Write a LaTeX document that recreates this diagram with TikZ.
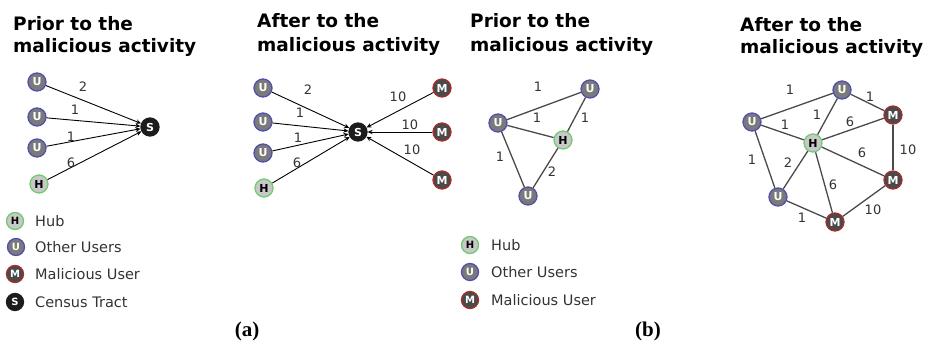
\documentclass[tikz,border=0pt]{standalone}
\usepackage{fontspec}
\setmainfont{DejaVu Sans}
\newfontfamily\capfont{Liberation Serif}
\usetikzlibrary{arrows.meta}
\definecolor{ublue}{HTML}{5050B0}
\definecolor{ugray}{HTML}{7A7A7A}
\definecolor{hgreen}{HTML}{70CC70}
\definecolor{hgray}{HTML}{C8C8C8}
\definecolor{mred}{HTML}{A82C2C}
\definecolor{mgray}{HTML}{4A4A4A}
\definecolor{sblack}{HTML}{1C1C1C}
\definecolor{edgec}{HTML}{4A4A4A}
\definecolor{lblc}{HTML}{333333}
\begin{document}
\begin{tikzpicture}[x=1pt,y=-1pt,
  nd/.style={circle,minimum size=18pt,inner sep=0pt,line width=1.3pt,font=\fontsize{11}{11}\selectfont\bfseries},
  uu/.style={nd,draw=ublue,fill=ugray,text=white},
  hh/.style={nd,draw=hgreen,fill=hgray,text=black},
  mm/.style={nd,draw=mred,fill=mgray,text=white},
  ss/.style={nd,draw=sblack,fill=sblack,text=white},
  lgi/.style={minimum size=17pt,font=\fontsize{10}{10}\selectfont\bfseries},
  lgt/.style={anchor=west,inner sep=0pt,text=lblc,font=\fontsize{14.5}{14.5}\selectfont},
  ttl/.style={anchor=base west,inner sep=0pt,font=\fontsize{18.5}{18.5}\selectfont\bfseries},
  lbl/.style={inner sep=0pt,text=lblc,font=\fontsize{13}{13}\selectfont},
  arr/.style={draw=black,line width=0.9pt,-{Stealth[length=5pt,width=4.5pt]}},
  ed/.style={draw=edgec,line width=1.3pt},
  captxt/.style={inner sep=0pt,font=\capfont\fontsize{21}{21}\selectfont\bfseries}
]
\useasboundingbox (0,0) rectangle (930,342);

% ---------- titles ----------
\node[ttl] (ta1) at (13,31) {Prior to the};
\node[ttl] (ta2) at (13,53) {malicious activity};
\node[ttl] (tb1) at (257,28) {After to the};
\node[ttl] (tb2) at (257,52) {malicious activity};
\node[ttl] (tc1) at (470,28) {Prior to the};
\node[ttl] (tc2) at (470,52) {malicious activity};
\node[ttl] (td1) at (740,32) {After to the};
\node[ttl] (td2) at (740,54) {malicious activity};

% ---------- panel (a) left ----------
\node[uu] (a1) at (37,82) {U};
\node[uu] (a2) at (37,117) {U};
\node[uu] (a3) at (37,148) {U};
\node[hh] (ah) at (39,184) {H};
\node[ss] (as) at (150,127) {S};
\draw[arr] (a1) -- (as);
\draw[arr] (a2) -- (as);
\draw[arr] (a3) -- (as);
\draw[arr] (ah) -- (as);
\node[lbl] (la1) at (83,87) {2};
\node[lbl] (la2) at (75,110) {1};
\node[lbl] (la3) at (71,137) {1};
\node[lbl] (la4) at (71,163) {6};

% ---------- panel (a) right ----------
\node[uu] (b1) at (263,88) {U};
\node[uu] (b2) at (263,122) {U};
\node[uu] (b3) at (263,153) {U};
\node[hh] (bh) at (264,188) {H};
\node[ss] (bs) at (358,132) {S};
\node[mm] (bm1) at (442,88) {M};
\node[mm] (bm2) at (442,132) {M};
\node[mm] (bm3) at (442,180) {M};
\draw[arr] (b1) -- (bs);
\draw[arr] (b2) -- (bs);
\draw[arr] (b3) -- (bs);
\draw[arr] (bh) -- (bs);
\draw[arr] (bm1) -- (bs);
\draw[arr] (bm2) -- (bs);
\draw[arr] (bm3) -- (bs);
\node[lbl] (lb1) at (308,90) {2};
\node[lbl] (lb2) at (300,113) {1};
\node[lbl] (lb3) at (298,138) {1};
\node[lbl] (lb4) at (297,163) {6};
\node[lbl] (lb5) at (398,97) {10};
\node[lbl] (lb6) at (410,125) {10};
\node[lbl] (lb7) at (412,150) {10};

% ---------- panel (b) left ----------
\node[uu] (c1) at (590,89) {U};
\node[uu] (c2) at (498,123) {U};
\node[hh] (ch) at (563,140) {H};
\node[uu] (c3) at (528,196) {U};
\draw[ed] (c2) -- (c1);
\draw[ed] (c2) -- (ch);
\draw[ed] (c1) -- (ch);
\draw[ed] (c2) -- (c3);
\draw[ed] (ch) -- (c3);
\node[lbl] (lc1) at (538,87) {1};
\node[lbl] (lc2) at (537,118) {1};
\node[lbl] (lc3) at (585,118) {1};
\node[lbl] (lc4) at (500,157) {1};
\node[lbl] (lc5) at (552,172) {2};

% ---------- panel (b) right ----------
\node[uu] (d1) at (842,90) {U};
\node[uu] (d2) at (752,122) {U};
\node[hh] (dh) at (813,143) {H};
\node[mm] (dm1) at (893,115) {M};
\node[mm] (dm2) at (893,180) {M};
\node[uu] (d3) at (778,197) {U};
\node[mm] (dm3) at (835,222) {M};
\draw[ed] (d2) -- (d1);
\draw[ed] (d1) -- (dm1);
\draw[ed] (d1) -- (dh);
\draw[ed] (d2) -- (dh);
\draw[ed] (dh) -- (dm1);
\draw[ed] (dm1) -- (dm2);
\draw[ed] (dh) -- (dm2);
\draw[ed] (d2) -- (d3);
\draw[ed] (dh) -- (d3);
\draw[ed] (dh) -- (dm3);
\draw[ed] (d3) -- (dm3);
\draw[ed] (dm3) -- (dm2);
\node[lbl] (ld1) at (790,90) {1};
\node[lbl] (ld2) at (870,97) {1};
\node[lbl] (ld3) at (817,115) {1};
\node[lbl] (ld4) at (785,125) {1};
\node[lbl] (ld5) at (850,122) {6};
\node[lbl] (ld6) at (908,150) {10};
\node[lbl] (ld7) at (862,153) {6};
\node[lbl] (ld8) at (752,160) {1};
\node[lbl] (ld9) at (788,163) {2};
\node[lbl] (ld10) at (833,185) {6};
\node[lbl] (ld11) at (802,218) {1};
\node[lbl] (ld12) at (873,210) {10};

% ---------- legends ----------
\node[hh,lgi] (lah) at (15,221) {H};
\node[lgt] (lath) at (35,221) {Hub};
\node[uu,lgi] (lau) at (16,247) {U};
\node[lgt] (latu) at (35,247) {Other Users};
\node[mm,lgi] (lam) at (15,274) {M};
\node[lgt] (latm) at (35,274) {Malicious User};
\node[ss,lgi] (las) at (15,302) {S};
\node[lgt] (lats) at (35,302) {Census Tract};

\node[hh,lgi] (lbh) at (470,245) {H};
\node[lgt] (lbth) at (491,245) {Hub};
\node[uu,lgi] (lbu) at (470,272) {U};
\node[lgt] (lbtu) at (491,272) {Other Users};
\node[mm,lgi] (lbm) at (470,300) {M};
\node[lgt] (lbtm) at (491,300) {Malicious User};

% ---------- captions ----------
\node[captxt] (capa) at (247,331) {(a)};
\node[captxt] (capb) at (648,331) {(b)};
\end{tikzpicture}
\end{document}
